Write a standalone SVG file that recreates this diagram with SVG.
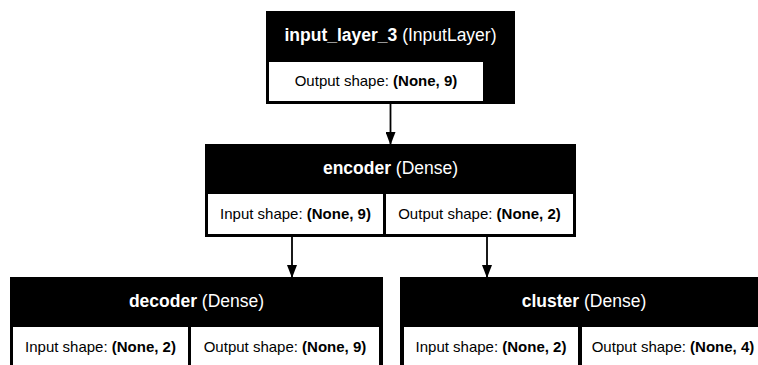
<svg xmlns="http://www.w3.org/2000/svg" width="758" height="365" viewBox="0 0 758 365">
<style>
.box{fill:#000}
.cell{fill:#fff}
.hd{font-family:"Liberation Sans",Arial,sans-serif;font-size:17.5px;fill:#fff;text-anchor:middle}
.tx{font-family:"Liberation Sans",Arial,sans-serif;font-size:15px;fill:#000;text-anchor:middle}
.b{font-weight:bold}
.edge{stroke:#000;stroke-width:1.8;fill:none}
</style>
<defs>
<marker id="ah" viewBox="0 0 13 10" refX="13" refY="5" markerWidth="13" markerHeight="10" markerUnits="userSpaceOnUse" orient="auto">
<path d="M0,0 L13,5 L0,10 z" fill="#000"/>
</marker>
</defs>
<rect width="758" height="365" fill="#fff"/>
<g id="edges">
<line class="edge" x1="390.5" y1="104" x2="390.5" y2="145" marker-end="url(#ah)"/>
<line class="edge" x1="292" y1="237" x2="292" y2="278" marker-end="url(#ah)"/>
<line class="edge" x1="487" y1="237" x2="487" y2="278" marker-end="url(#ah)"/>
</g>
<g id="input_layer_3">
<rect class="box" x="266" y="11" width="249" height="93"/>
<text class="hd" x="390.5" y="41"><tspan class="b">input_layer_3</tspan> (InputLayer)</text>
<rect class="cell" x="269" y="62" width="214" height="39"/>
<text class="tx" x="376" y="86">Output shape: <tspan class="b">(None, 9)</tspan></text>
</g>
<g id="encoder">
<rect class="box" x="205" y="144" width="371" height="93"/>
<text class="hd" x="390.5" y="174"><tspan class="b">encoder</tspan> (Dense)</text>
<rect class="cell" x="208" y="194" width="175" height="40"/>
<rect class="cell" x="386" y="194" width="187" height="40"/>
<text class="tx" x="295.5" y="219">Input shape: <tspan class="b">(None, 9)</tspan></text>
<text class="tx" x="479.5" y="219">Output shape: <tspan class="b">(None, 2)</tspan></text>
</g>
<g id="decoder">
<rect class="box" x="10" y="277" width="373" height="93"/>
<text class="hd" x="196.5" y="307"><tspan class="b">decoder</tspan> (Dense)</text>
<rect class="cell" x="13" y="327" width="175" height="40"/>
<rect class="cell" x="191" y="327" width="188" height="40"/>
<text class="tx" x="100.5" y="352">Input shape: <tspan class="b">(None, 2)</tspan></text>
<text class="tx" x="285" y="352">Output shape: <tspan class="b">(None, 9)</tspan></text>
</g>
<g id="cluster">
<rect class="box" x="400" y="277" width="370" height="93"/>
<text class="hd" x="584" y="307"><tspan class="b">cluster</tspan> (Dense)</text>
<rect class="cell" x="404" y="327" width="174" height="40"/>
<rect class="cell" x="582" y="327" width="184" height="40"/>
<text class="tx" x="491" y="352">Input shape: <tspan class="b">(None, 2)</tspan></text>
<text class="tx" x="673" y="352">Output shape: <tspan class="b">(None, 4)</tspan></text>
</g>
</svg>
